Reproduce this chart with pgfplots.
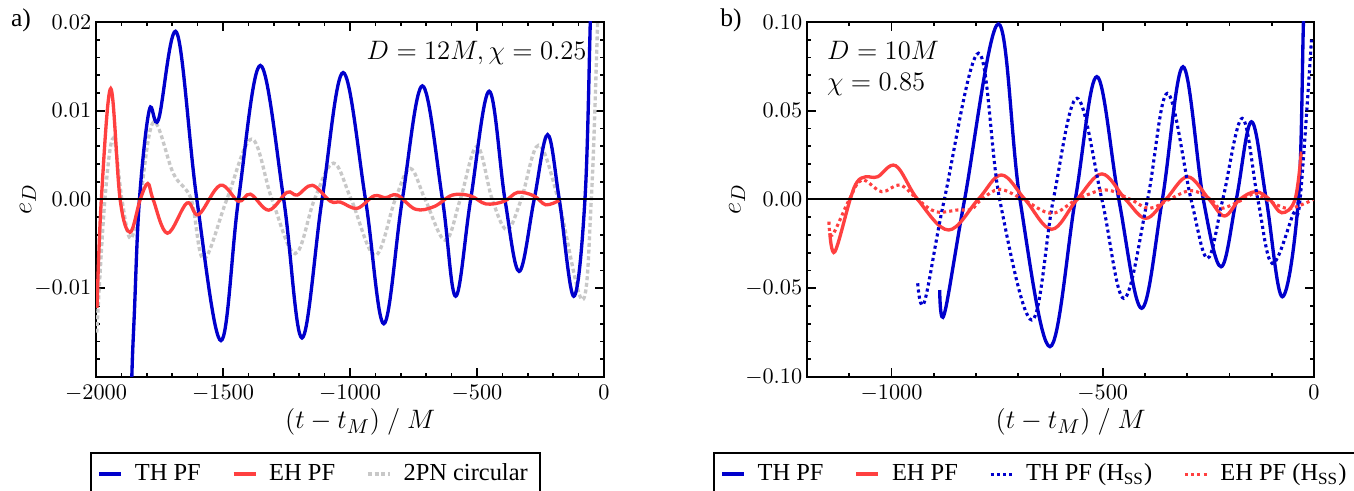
\documentclass[border=0pt]{standalone}
\usepackage{fontspec}
\setmainfont{Liberation Serif}
\usepackage{pgfplots}
\pgfplotsset{compat=1.18}

\definecolor{thblue}{RGB}{0,0,204}
\definecolor{ehred}{RGB}{255,64,64}
\definecolor{pngray}{RGB}{200,200,200}

\pgfplotsset{
  panel/.style={
    scale only axis,
    width=228.6pt, height=159.75pt,
    anchor=south west,
    axis line style={line width=1.1pt},
    every tick/.style={black, line width=0.8pt},
    major tick length=4pt, minor tick length=2pt,
    tick align=inside,
    tick label style={font=\fontsize{10.3}{12}\selectfont},
    yticklabel style={inner xsep=2pt, /pgf/number format/.cd, fixed, fixed zerofill, precision=2},
    xticklabel style={/pgf/number format/.cd, 1000 sep={}},
    scaled y ticks=false,
    label style={font=\fontsize{12.5}{14}\selectfont},
    xlabel={$(t-t_M)\ /\ M$},
    ylabel={$e_D$},
    xlabel style={at={(axis description cs:0.52,-0.127)}, anchor=center},
    legend columns=-1,
    legend image code/.code={\draw[#1] (0pt,0pt) -- (9.9pt,0pt); \path (12.8pt,0pt);},
    legend style={draw=black, line width=0.9pt, anchor=north west,
      font=\fontsize{11}{13}\selectfont,
      inner xsep=3pt, inner ysep=2pt,
      nodes={inner xsep=2.5pt, inner ysep=3pt},
      /tikz/every even column/.append style={column sep=11.5pt}},
    smooth, tension=0.6,
  },
  thpf/.style={thblue, line width=1.5pt, solid},
  ehpf/.style={ehred, line width=1.5pt, solid},
  pnc/.style={pngray, line width=1.5pt, dash pattern=on 1.8pt off 1.2pt},
  thss/.style={thblue, line width=1.4pt, dash pattern=on 1.4pt off 1.4pt},
  ehss/.style={ehred, line width=1.4pt, dash pattern=on 1.4pt off 1.4pt},
}

\begin{document}
\begin{tikzpicture}
\useasboundingbox (0,0) rectangle (609.3pt,220.95pt);

\node[font=\fontsize{11.5}{13}\selectfont] at (9.45pt,211.95pt) {a)};
\node[font=\fontsize{11.5}{13}\selectfont] at (328.95pt,211.95pt) {b)};

% ---------------- panel a ----------------
\begin{axis}[panel,
  at={(43.2pt,51.3pt)},
  xmin=-2000, xmax=0, ymin=-0.02, ymax=0.02,
  xtick={-2000,-1500,-1000,-500,0}, minor x tick num=4,
  ytick={-0.01,0,0.01,0.02},
  minor ytick={-0.018,-0.016,-0.014,-0.012,-0.008,-0.006,-0.004,-0.002,0.002,0.004,0.006,0.008,0.012,0.014,0.016,0.018},
  ylabel style={at={(axis description cs:-0.134,0.5)}, anchor=center},
  legend style={at={(axis description cs:-0.012,-0.211)}},
]
\addplot[pnc, forget plot] coordinates {
(-1997,-0.0150) (-1965,0) (-1932,0.0069) (-1898,0) (-1864,-0.0044) (-1827,0)
(-1774,0.0087) (-1695,0.0029) (-1625,0) (-1576,-0.0067) (-1485,0) (-1387,0.0068)
(-1307,0) (-1216,-0.0061) (-1140,0) (-1065,0.0041) (-995,0) (-901,-0.0063)
(-822,0) (-763,0.0035) (-704,0) (-625,-0.0046) (-566,0) (-500,0.0060)
(-440,0) (-382,-0.0034) (-326,0) (-258,0.0061) (-180,0) (-85,-0.0113)
(-50,0) (-25,0.020) (-15,0.030)
};
\addplot[thpf] coordinates {
(-1868,-0.032) (-1859,-0.020) (-1849,-0.0128) (-1829,0) (-1790,0.0101)
(-1754,0.0090) (-1682,0.0188) (-1603,0) (-1508,-0.0159) (-1439,0)
(-1353,0.0151) (-1261,0) (-1189,-0.0156) (-1110,0) (-1027,0.0143)
(-939,0) (-867,-0.0140) (-794,0) (-715,0.0128) (-636,0) (-584,-0.0109)
(-525,0) (-452,0.0122) (-390,0) (-334,-0.0081) (-275,0) (-222,0.0073)
(-176,0) (-119,-0.0109) (-75,0) (-54,0.020) (-46,0.030)
};
\addplot[ehpf] coordinates {
(-1996,-0.0122) (-1979,0) (-1942,0.0125) (-1905,0) (-1866,-0.0037)
(-1826,0) (-1796,0.0018) (-1775,0) (-1719,-0.0038) (-1642,-0.0004)
(-1596,-0.0017) (-1511,0.0016) (-1439,-0.0002) (-1392,0.0006) (-1320,-0.0012)
(-1248,0.0008) (-1208,0.0005) (-1148,0.0016) (-1077,-0.0002) (-1037,-0.0003)
(-972,-0.0010) (-906,0.0004) (-860,0.0002) (-814,0.0005) (-742,-0.0011)
(-669,-0.0008) (-597,0.0005) (-525,0.0004) (-465,-0.0005) (-393,-0.0002)
(-340,0.0008) (-275,0.0004) (-229,-0.0006) (-176,-0.0001)
};
\addlegendimage{pnc}
\legend{TH PF, EH PF, 2PN circular}
\addplot[black, line width=0.9pt, sharp plot, forget plot] coordinates {(-2000,0) (0,0)};
\node[anchor=base east, inner sep=0pt, font=\fontsize{12.7}{15}\selectfont] at (axis description cs:0.9665,0.893) {$D=12M, \chi=0.25$};
\end{axis}

% ---------------- panel b ----------------
\begin{axis}[panel,
  at={(363.15pt,51.3pt)},
  width=228.15pt,
  xmin=-1200, xmax=0, ymin=-0.1, ymax=0.1,
  xtick={-1000,-500,0}, minor xtick={-1100,-1000,...,-100},
  ytick={-0.1,-0.05,0,0.05,0.1}, minor y tick num=4,
  ylabel style={at={(axis description cs:-0.138,0.5)}, anchor=center},
  legend style={at={(axis description cs:-0.186,-0.211)}},
]
\addplot[thpf] coordinates {
(-886,-0.051) (-875,-0.0645) (-827,0) (-747,0.0989) (-696,0) (-625,-0.0829)
(-565,0) (-514,0.0692) (-462,0) (-408,-0.0613) (-359,0) (-310,0.0748)
(-262,0) (-220,-0.0379) (-184,0) (-148,0.0438) (-113,0) (-75,-0.0548)
(-37,0) (-25,0.100) (-19,0.140)
};
\addplot[ehpf] coordinates {
(-1146,-0.019) (-1134,-0.0294) (-1098,0) (-1081,0.0100) (-1061,0.0128)
(-1033,0.0128) (-990,0.0190) (-938,0) (-865,-0.0172) (-795,0) (-740,0.0138)
(-684,0) (-621,-0.0168) (-561,0) (-502,0.0144) (-446,0) (-398,-0.0106)
(-351,0) (-299,0.0128) (-248,0) (-212,-0.0093) (-176,0) (-138,0.0044)
(-105,0) (-76,-0.0075) (-45,0) (-30,0.027)
};
\addplot[thss] coordinates {
(-938,-0.0472) (-922,-0.0576) (-875,0) (-794,0.0824) (-744,0) (-668,-0.0679)
(-617,0) (-561,0.0570) (-502,0) (-450,-0.0557) (-394,0) (-347,0.0598)
(-291,0) (-252,-0.0331) (-216,0) (-170,0.0457) (-133,0) (-99,-0.0360)
(-49,-0.008) (-33,0) (-6,0.090)
};
\addplot[ehss] coordinates {
(-1148,-0.0125) (-1140,-0.0200) (-1100,0) (-1070,0.0110) (-1023,0.0044)
(-980,0.0082) (-938,0) (-895,-0.0069) (-843,-0.0059) (-811,-0.0055)
(-787,0) (-744,0.0057) (-688,0) (-621,-0.0078) (-561,0) (-494,0.0054)
(-434,0) (-390,-0.0050) (-343,0) (-291,0.0050) (-244,0) (-220,-0.0050)
(-168,0) (-140,0.0035) (-113,0) (-65,-0.0050) (-30,-0.003) (-2,0)
};
\legend{TH PF, EH PF, TH PF (H\textsubscript{SS}), EH PF (H\textsubscript{SS})}
\addplot[black, line width=0.9pt, sharp plot, forget plot] coordinates {(-1200,0) (0,0)};
\node[anchor=base west, inner sep=0pt, font=\fontsize{12.7}{15}\selectfont] at (axis description cs:0.039,0.895) {$D=10M$};
\node[anchor=base west, inner sep=0pt, font=\fontsize{12.7}{15}\selectfont] at (axis description cs:0.039,0.808) {$\chi=0.85$};
\end{axis}
\end{tikzpicture}
\end{document}
